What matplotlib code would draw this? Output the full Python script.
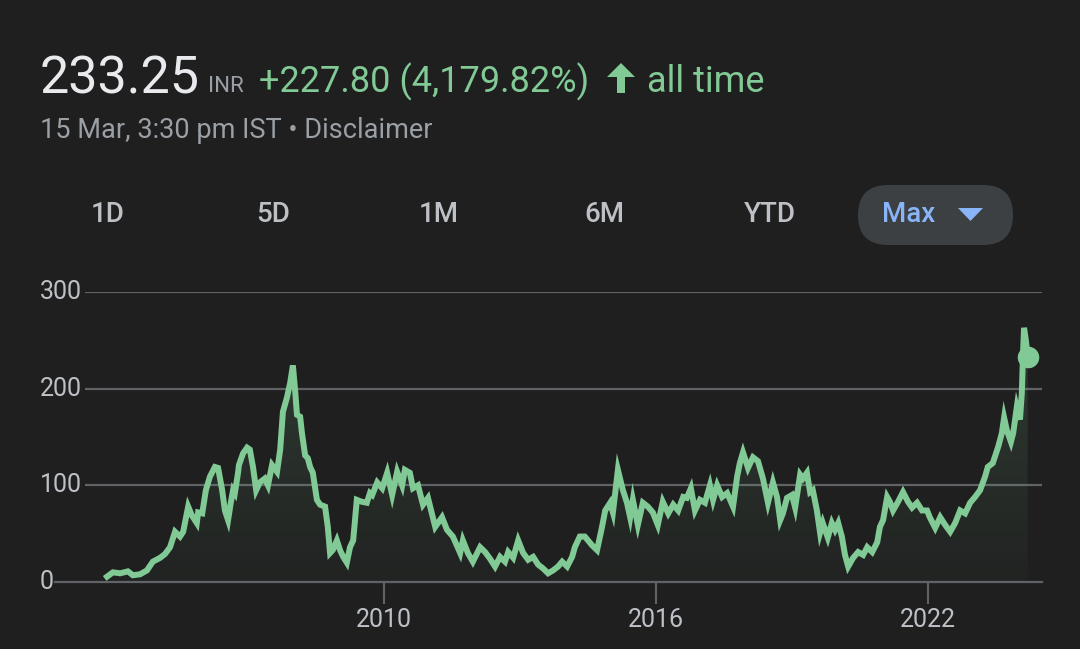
import numpy as np
import matplotlib.pyplot as plt
from matplotlib.patches import FancyBboxPatch, Polygon
from matplotlib.colors import LinearSegmentedColormap
from matplotlib.transforms import blended_transform_factory

plt.rcParams['font.family'] = ['Roboto', 'DejaVu Sans']

# price history (decimal year, INR)
years = [2003.89, 2004.02, 2004.18, 2004.35, 2004.46, 2004.62, 2004.77, 2004.90,
         2005.06, 2005.17, 2005.28, 2005.39, 2005.50, 2005.57, 2005.68, 2005.76,
         2005.87, 2005.90, 2005.99, 2006.07, 2006.16, 2006.27, 2006.34, 2006.43,
         2006.49, 2006.56, 2006.62, 2006.67, 2006.71, 2006.78, 2006.80, 2006.89,
         2006.98, 2007.04, 2007.11, 2007.18, 2007.26, 2007.37, 2007.44, 2007.53,
         2007.64, 2007.71, 2007.77, 2007.86, 2007.93, 2007.99, 2008.04, 2008.08,
         2008.15, 2008.19, 2008.26, 2008.32, 2008.37, 2008.43, 2008.52, 2008.59,
         2008.70, 2008.76, 2008.81, 2008.87, 2008.96, 2009.03, 2009.10, 2009.18,
         2009.25, 2009.32, 2009.40, 2009.51, 2009.62, 2009.69, 2009.74, 2009.85,
         2009.96, 2010.07, 2010.18, 2010.29, 2010.40, 2010.46, 2010.57, 2010.64,
         2010.75, 2010.86, 2010.97, 2011.13, 2011.28, 2011.39, 2011.52, 2011.68,
         2011.74, 2011.85, 2011.96, 2012.12, 2012.23, 2012.34, 2012.45, 2012.56,
         2012.67, 2012.74, 2012.85, 2012.96, 2013.07, 2013.18, 2013.29, 2013.40,
         2013.51, 2013.62, 2013.73, 2013.84, 2013.93, 2014.04, 2014.15, 2014.21,
         2014.32, 2014.43, 2014.50, 2014.59, 2014.70, 2014.81, 2014.88, 2014.99,
         2015.05, 2015.16, 2015.27, 2015.36, 2015.43, 2015.49, 2015.60, 2015.71,
         2015.82, 2015.93, 2016.04, 2016.15, 2016.27, 2016.38, 2016.49, 2016.60,
         2016.68, 2016.77, 2016.86, 2016.97, 2017.08, 2017.19, 2017.26, 2017.35,
         2017.46, 2017.57, 2017.70, 2017.79, 2017.85, 2017.92, 2018.03, 2018.14,
         2018.25, 2018.36, 2018.47, 2018.58, 2018.67, 2018.74, 2018.80, 2018.89,
         2019.00, 2019.07, 2019.18, 2019.24, 2019.33, 2019.40, 2019.46, 2019.55,
         2019.62, 2019.68, 2019.79, 2019.88, 2019.95, 2020.02, 2020.10, 2020.17,
         2020.24, 2020.35, 2020.46, 2020.57, 2020.66, 2020.77, 2020.88, 2020.94,
         2021.01, 2021.10, 2021.16, 2021.23, 2021.34, 2021.45, 2021.56, 2021.65,
         2021.76, 2021.87, 2021.98, 2022.04, 2022.16, 2022.27, 2022.38, 2022.49,
         2022.60, 2022.71, 2022.82, 2022.93, 2023.04, 2023.15, 2023.26, 2023.32,
         2023.43, 2023.55, 2023.63, 2023.68, 2023.74, 2023.83, 2023.88, 2023.96,
         2024.03, 2024.07, 2024.10, 2024.12, 2024.16, 2024.20]
prices = [5.5, 10, 9, 11, 7, 8, 12, 21,
          25, 29, 36, 52, 47, 52, 78, 69,
          61, 72, 71, 95, 109, 119, 118, 95,
          74, 64, 82, 95, 92, 113, 121, 133,
          139, 137, 119, 95, 103, 107, 100, 121,
          114, 137, 176, 191, 206, 224, 198, 173,
          171, 154, 131, 128, 119, 113, 85, 80,
          78, 57, 30, 33, 43, 33, 26, 20,
          36, 43, 85, 83, 82, 92, 90, 103,
          97, 113, 90, 114, 100, 116, 113, 97,
          100, 80, 87, 57, 67, 54, 47, 30,
          43, 30, 21, 36, 31, 24, 16, 26,
          21, 31, 25, 43, 30, 23, 26, 18,
          14, 9, 12, 16, 21, 16, 26, 36,
          47, 47, 43, 38, 33, 57, 74, 82,
          72, 116, 95, 82, 67, 85, 59, 82,
          78, 72, 59, 83, 71, 80, 74, 88,
          87, 97, 74, 85, 82, 100, 85, 100,
          88, 92, 78, 109, 123, 134, 118, 129,
          125, 107, 82, 103, 88, 64, 71, 87,
          90, 77, 111, 107, 113, 93, 95, 74,
          51, 61, 46, 61, 54, 61, 47, 28,
          16, 25, 31, 28, 36, 31, 41, 57,
          64, 88, 83, 74, 83, 93, 83, 77,
          82, 74, 74, 67, 56, 67, 59, 52,
          61, 74, 71, 82, 88, 95, 109, 119,
          123, 140, 154, 170, 157, 145, 154, 181,
          168, 195, 240, 263, 250, 233.25]

x_ticks = [2010, 2016, 2022]
x_labels = ['2010', '2016', '2022']
y_ticks = [0, 100, 200, 300]
ranges = ['1D', '5D', '1M', '6M', 'YTD', 'Max']

bg = '#1f1f1f'
green = '#81c995'
grid = '#5f6368'
grey = '#9aa0a6'

fig = plt.figure(figsize=(10.8, 6.49), dpi=100, facecolor=bg)

# overlay in pixel coords for header / buttons
deco = fig.add_axes([0, 0, 1, 1], zorder=0)
deco.set_xlim(0, 1080)
deco.set_ylim(649, 0)
deco.axis('off')
deco.set_facecolor(bg)

deco.text(40, 94, '233.25', fontsize=37.5, color='#e8eaed', va='baseline')
deco.text(208, 92, 'INR', fontsize=16, color=grey, va='baseline')
deco.text(259, 92, '+227.80 (4,179.82%)', fontsize=26, color=green, va='baseline')
arrow = [(621, 63), (607, 77), (617, 77), (617, 93), (625, 93), (625, 77), (635, 77)]
deco.add_patch(Polygon(arrow, closed=True, color=green, lw=0))
deco.text(647, 92, 'all time', fontsize=26, color=green, va='baseline')
deco.text(40, 138, '15 Mar, 3:30 pm IST \u2022 Disclaimer', fontsize=19.5, color=grey,
          va='baseline')

# range buttons
deco.add_patch(FancyBboxPatch((858, 185), 155, 60, boxstyle='round,pad=0,rounding_size=30',
                              fc='#3c4043', ec='none'))
btn_x = [108, 273, 439, 604, 770, 909]
for lab, bx in zip(ranges, btn_x):
    c = '#8ab4f8' if lab == 'Max' else '#bdc1c6'
    deco.text(bx, 214, lab, fontsize=20, color=c, ha='center', va='center', weight='medium')
deco.add_patch(Polygon([(958, 208), (983, 208), (970.5, 221)], closed=True,
                       color='#8ab4f8', lw=0))

# main chart
ax = fig.add_axes([85 / 1080, 1 - 582 / 649, 957 / 1080, 290 / 649], zorder=1)
ax.set_facecolor('none')
x0 = 2010 + (85 - 384) / 45.33
x1 = 2010 + (1042 - 384) / 45.33
for s in ax.spines.values():
    s.set_visible(False)

for yv in y_ticks[1:]:
    ax.axhline(yv, color=grid, lw=1.6, zorder=1)
ax.axhline(0, xmin=-30 / 957, xmax=1, color=grid, lw=1.6, clip_on=False, zorder=1)

# gradient fill under the line
base = -13
xs = np.array(years)
ys = np.array(prices)
verts = [(xs[0], base)] + list(zip(xs, ys)) + [(xs[-1], base)]
poly = Polygon(verts, closed=True, fc='none', ec='none')
ax.add_patch(poly)
cmap = LinearSegmentedColormap.from_list('g', [(0.506, 0.788, 0.584, 0.02),
                                               (0.506, 0.788, 0.584, 0.17)])
grad = np.linspace(0, 1, 256).reshape(-1, 1)
im = ax.imshow(grad, cmap=cmap, aspect='auto', origin='lower',
               extent=[xs[0], xs[-1], base, 265], zorder=2)
im.set_clip_path(poly)
im.set_clip_on(True)
ax.set_xlim(x0, x1)
ax.set_ylim(0, 300)

ax.plot(xs, ys, color=green, lw=4.3, solid_joinstyle='miter', zorder=3, clip_on=False)
ax.plot(xs[-1], ys[-1], 'o', color=green, ms=14.5, zorder=4, clip_on=False)

ax.set_xticks(x_ticks)
ax.set_xticklabels(x_labels)
ax.tick_params(axis='x', length=16, width=1.5, color=grid, labelcolor='#bdc1c6',
               labelsize=18, pad=3)
ax.set_yticks([])

trans = blended_transform_factory(deco.transData, ax.transData)
for yv in y_ticks:
    ax.text(40, yv, str(yv), transform=trans, fontsize=18, color='#bdc1c6',
            ha='left', va='center')

fig.savefig('out.png', dpi=100, facecolor=bg)
